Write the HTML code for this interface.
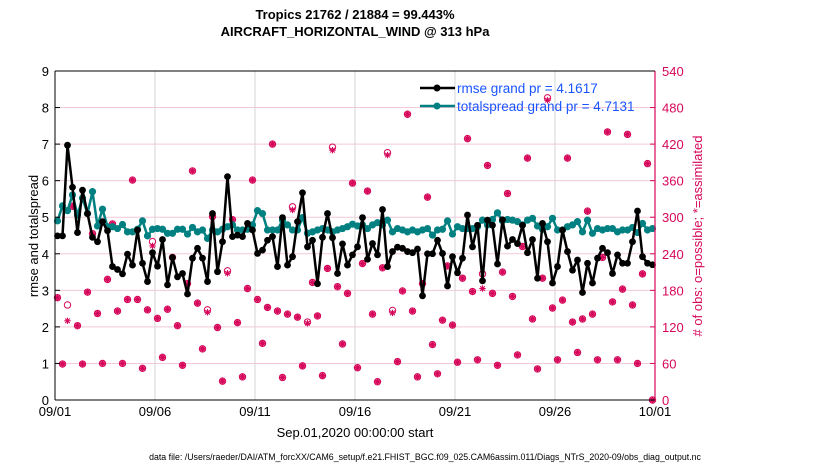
<!DOCTYPE html>
<html><head><meta charset="utf-8"><style>
body{margin:0;background:#fff;}
svg{display:block;font-family:"Liberation Sans",Arial,sans-serif;}
</style></head><body>
<svg id="chart" width="830" height="470" viewBox="0 0 830 470">
<text x="355" y="19" text-anchor="middle" font-size="13" font-weight="bold">Tropics 21762 / 21884 = 99.443%</text>
<text x="355" y="36" text-anchor="middle" font-size="13" font-weight="bold">AIRCRAFT_HORIZONTAL_WIND @ 313 hPa</text>
<g id="grid"></g><g id="marks"></g><g id="axes"></g>
<text x="0" y="0" transform="translate(38,236) rotate(-90)" text-anchor="middle" font-size="13">rmse and totalspread</text>
<text x="0" y="0" transform="translate(702,236) rotate(-90)" text-anchor="middle" font-size="13" fill="#d6075a"># of obs: o=possible; *=assimilated</text>
<text x="355" y="437" text-anchor="middle" font-size="13">Sep.01,2020 00:00:00 start</text>
<text x="425" y="460" text-anchor="middle" font-size="8.8">data file: /Users/raeder/DAI/ATM_forcXX/CAM6_setup/f.e21.FHIST_BGC.f09_025.CAM6assim.011/Diags_NTrS_2020-09/obs_diag_output.nc</text>
<g>
<line x1="420" y1="88" x2="455" y2="88" stroke="#000" stroke-width="2.5"/>
<circle cx="437" cy="88" r="3.5" fill="#000"/>
<text x="457" y="93" font-size="13.5" fill="#1a55ff">rmse grand pr = 4.1617</text>
<line x1="420" y1="106" x2="455" y2="106" stroke="#008080" stroke-width="2.5"/>
<circle cx="437" cy="106" r="3.5" fill="#008080"/>
<text x="457" y="111" font-size="13.5" fill="#1a55ff">totalspread grand pr = 4.7131</text>
</g>
</svg>
<script>
const xTickLabels=["09/01","09/06","09/11","09/16","09/21","09/26","10/01"];
const leftTicks=[0,1,2,3,4,5,6,7,8,9];
const rightTicks=[0,60,120,180,240,300,360,420,480,540];
const rmse=[4.49,4.49,6.97,5.82,4.58,5.74,5.1,4.45,4.33,4.88,4.63,3.65,3.57,3.45,3.99,3.69,4.65,3.74,3.24,4.03,3.66,4.39,3.15,3.90,3.37,3.46,2.9,3.88,4.15,3.88,3.24,
5.1,3.51,4.33,6.11,4.47,4.51,4.47,4.83,4.65,4.01,4.1,4.37,4.47,3.65,4.99,3.69,3.92,4.88,5.67,4.19,4.37,3.18,4.45,5.1,4.44,3.46,4.27,3.69,3.97,4.19,
4.99,3.85,4.28,3.97,5.21,3.65,4.06,4.18,4.15,4.06,4.03,4.13,2.85,4.0,4.0,4.37,4.01,3.12,3.92,3.48,3.88,5.06,4.19,4.78,3.26,4.92,4.78,3.72,4.93,4.21,
4.39,4.28,4.78,4.03,4.39,3.33,4.83,4.33,3.2,3.65,4.65,4.06,3.55,3.83,2.94,3.74,3.2,3.88,4.15,4.03,3.46,3.97,3.74,3.74,4.33,5.17,3.92,3.74,3.7];
const spread=[4.90,5.31,5.18,5.61,5.06,5.52,5.1,5.70,4.76,5.22,4.74,4.74,4.69,4.8,4.6,4.6,4.67,4.9,4.49,4.67,4.69,4.67,4.56,4.56,4.67,4.67,4.54,4.72,4.6,4.65,4.42,
4.65,4.6,4.67,4.74,4.79,4.65,4.65,4.67,4.79,5.18,5.1,4.65,4.65,4.65,4.92,4.79,4.65,4.65,4.99,4.56,4.6,4.65,4.69,4.65,4.6,4.65,4.69,4.74,4.81,4.76,
4.79,4.69,4.79,4.85,4.79,4.92,4.6,4.69,4.65,4.6,4.65,4.6,4.65,4.69,4.51,4.65,4.67,4.9,4.54,4.74,4.69,4.69,4.69,4.74,4.92,4.79,4.94,5.12,4.9,4.94,
4.92,4.88,4.79,4.92,4.97,4.76,4.67,4.74,4.97,4.65,4.65,4.74,4.79,4.88,4.6,4.92,4.56,4.69,4.65,4.69,4.69,4.6,4.65,4.65,4.72,4.58,4.83,4.65,4.69];
const obsPossible=[168,59,156,318,122,59,177,273,142,60,198,289,146,60,165,361,165,52,148,260,134,70,149,234,122,57,191,376,159,84,148,301,119,31,212,296,127,38,183,361,165,93,152,420,146,37,141,317,136,56,128,193,138,40,216,415,186,92,175,356,
53,224,343,141,30,217,406,147,63,179,469,146,38,191,333,91,43,131,220,123,62,200,429,178,66,207,385,175,57,210,339,170,74,252,397,133,51,200,496,151,66,164,397,128,78,133,310,141,66,234,440,161,66,182,436,156,60,207,388,0];
const obsAssim=[168,59,130,318,122,59,177,273,142,60,198,289,146,60,165,361,165,52,148,253,134,70,149,234,122,57,191,376,159,84,144,301,119,31,208,296,127,38,183,361,165,93,152,420,146,37,141,312,136,56,126,193,138,40,216,410,186,92,175,356,
53,224,343,141,30,217,402,143,63,179,469,146,38,191,333,91,43,131,220,123,62,200,429,178,66,183,385,175,57,210,339,170,74,252,397,133,51,200,492,151,66,164,397,128,78,133,310,141,66,234,440,161,66,182,436,156,60,207,388,0];

const L=55,R=655,T=71,B=400,NS="http://www.w3.org/2000/svg";
const xDay=d=>L+(R-L)*d/30;
const xIdx=i=>xDay(0.125+0.25*i);
const yL=v=>B-(B-T)*v/9;
const yR=v=>B-(B-T)*v/540;
function mk(tag,attrs,parent){const e=document.createElementNS(NS,tag);for(const k in attrs)e.setAttribute(k,attrs[k]);parent.appendChild(e);return e;}
const grid=document.getElementById('grid'),marks=document.getElementById('marks'),axes=document.getElementById('axes');
leftTicks.forEach(v=>{if(v>0&&v<9){const g=mk('line',{x1:L,x2:R,y1:yL(v),y2:yL(v),stroke:'#f2c9d8','stroke-width':1},grid);

}
const t=mk('text',{x:L-6,y:yL(v)+5,'text-anchor':'end','font-size':13},axes);t.textContent=v;


mk('line',{x1:L,x2:L+5,y1:yL(v),y2:yL(v),stroke:'#000'},axes);});
rightTicks.forEach(v=>{const t=mk('text',{x:R+7,y:yR(v)+5,'font-size':13,fill:'#d6075a'},axes);t.textContent=v;


mk('line',{x1:R-5,x2:R,y1:yR(v),y2:yR(v),stroke:'#d6075a'},axes);});
xTickLabels.forEach((s,k)=>{const x=xDay(k*5);if(k>0&&k<6){const g=mk('line',{x1:x,x2:x,y1:T,y2:B,stroke:'#d4d4d4','stroke-width':1},grid);

}
const t=mk('text',{x:x,y:B+16,'text-anchor':'middle','font-size':13},axes);t.textContent=s;

});
const lx=mk('line',{x1:L,x2:L,y1:T,y2:B,stroke:'#000','stroke-width':1},axes);


const rx=mk('line',{x1:R,x2:R,y1:T,y2:B,stroke:'#d6075a','stroke-width':1.2},axes);


const bx=mk('line',{x1:L,x2:R,y1:B,y2:B,stroke:'#000'},axes);


const tx=mk('line',{x1:L,x2:R,y1:T,y2:T,stroke:'#000'},axes);


obsPossible.forEach((v,i)=>{const c=mk('circle',{cx:xIdx(i),cy:yR(v),r:3.2,fill:'none',stroke:'#d6075a','stroke-width':1},marks);

});
obsAssim.forEach((v,i)=>{const x=xIdx(i),y=yR(v);const g=mk('g',{stroke:'#d6075a','stroke-width':1.1},marks);


mk('line',{x1:x-3.2,x2:x+3.2,y1:y,y2:y},g);mk('line',{x1:x,x2:x,y1:y-3.2,y2:y+3.2},g);
mk('line',{x1:x-2.3,x2:x+2.3,y1:y-2.3,y2:y+2.3},g);mk('line',{x1:x-2.3,x2:x+2.3,y1:y+2.3,y2:y-2.3},g);
if(v===obsPossible[i])mk('circle',{cx:x,cy:y,r:2.6,fill:'#d6075a',stroke:'none','fill-opacity':0.75},g);});
function series(arr,color,name,r){const p=mk('polyline',{points:arr.map((v,i)=>xIdx(i)+','+yL(v)).join(' '),fill:'none',stroke:color,'stroke-width':2.5,'stroke-linejoin':'round'},marks);


arr.forEach((v,i)=>{const c=mk('circle',{cx:xIdx(i),cy:yL(v),r:r,fill:color},marks);

});}
series(spread,'#008080','spread',3.6);
series(rmse,'#000000','rmse',3.4);
</script>
</body></html>
